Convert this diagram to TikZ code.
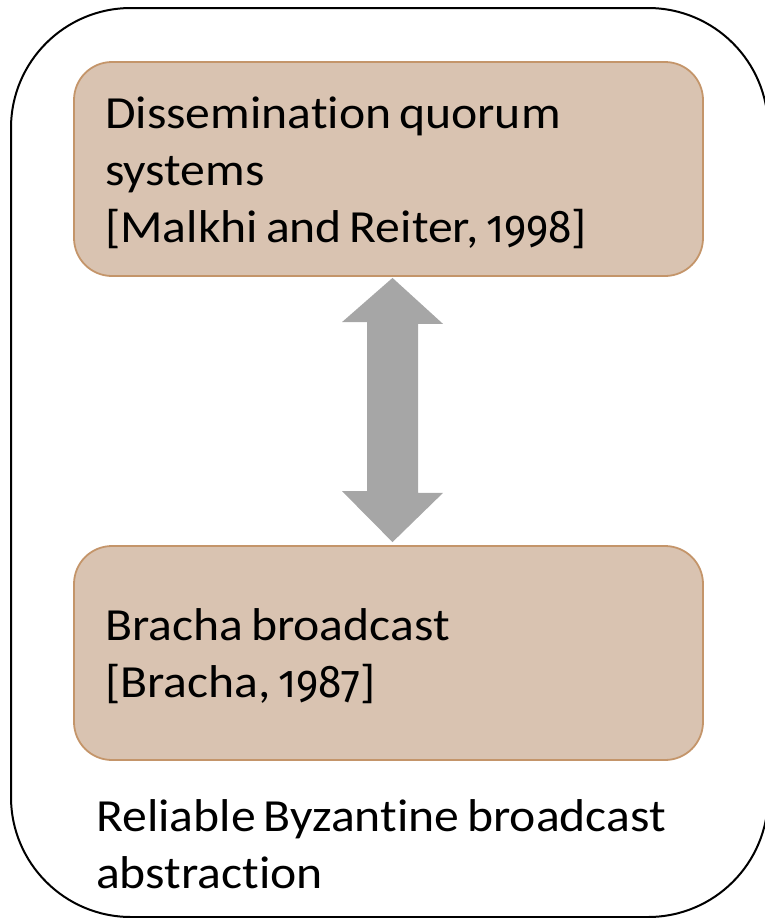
\documentclass[tikz,border=0pt]{standalone}
\usepackage{fontspec}
\setmainfont{Carlito}[FakeStretch=1.08, Ligatures=NoCommon, WordSpace=0.7]
\newfontfamily\yearfont{Fira Sans}[Numbers=OldStyle, FakeStretch=0.92]
\usetikzlibrary{calc}
\definecolor{cardfill}{HTML}{D9C3B1}
\definecolor{cardedge}{HTML}{C4956A}
\definecolor{arrowgray}{HTML}{A6A6A6}
\newcommand{\yr}[1]{{\yearfont #1}}
\begin{document}
\begin{tikzpicture}[x=1pt,y=-1pt,
  card/.style={draw=cardedge, fill=cardfill, line width=1.8pt, rounded corners=38pt,
    minimum width=629pt, minimum height=214pt, inner sep=0pt},
  lbl/.style={anchor=base west, align=left, inner sep=0pt,
    font=\fontsize{46}{57}\selectfont}]
\useasboundingbox (0,0) rectangle (765,918);
\clip (0,0) rectangle (765,918);

% outer frame
\draw[line width=2pt, rounded corners=120pt] (11,8) rectangle (768,917);

% the two cards
\node[card] (dq) at (388.5,169) {};
\node[card] (bb) at (388.5,653) {};

% card texts (anchored at the baseline of their last line)
\node[lbl] (dqtext) at (105,242) {Dissemination quorum\\systems\\{[}Malkhi and Reiter, \yr{1998}{]}};
\node[lbl] (bbtext) at (105,697) {Bracha broadcast\\{[}Bracha, \yr{1987}{]}};

% outer caption
\node[lbl] (caption) at (96,888) {Reliable Byzantine broadcast\\abstraction};

% double-headed block arrow between the cards
\fill[arrowgray]
  ($(dq.south)+(4,1)$) coordinate (tipA)
  -- ++(50.5,46) -- ++(-25,0) -- ++(0,169) -- ++(25,0)
  -- ($(bb.north)+(4,-3)$) coordinate (tipB)
  -- ++(-50.5,-51) -- ++(25,0) -- ++(0,-169) -- ++(-25,0) -- cycle;
\end{tikzpicture}
\end{document}
